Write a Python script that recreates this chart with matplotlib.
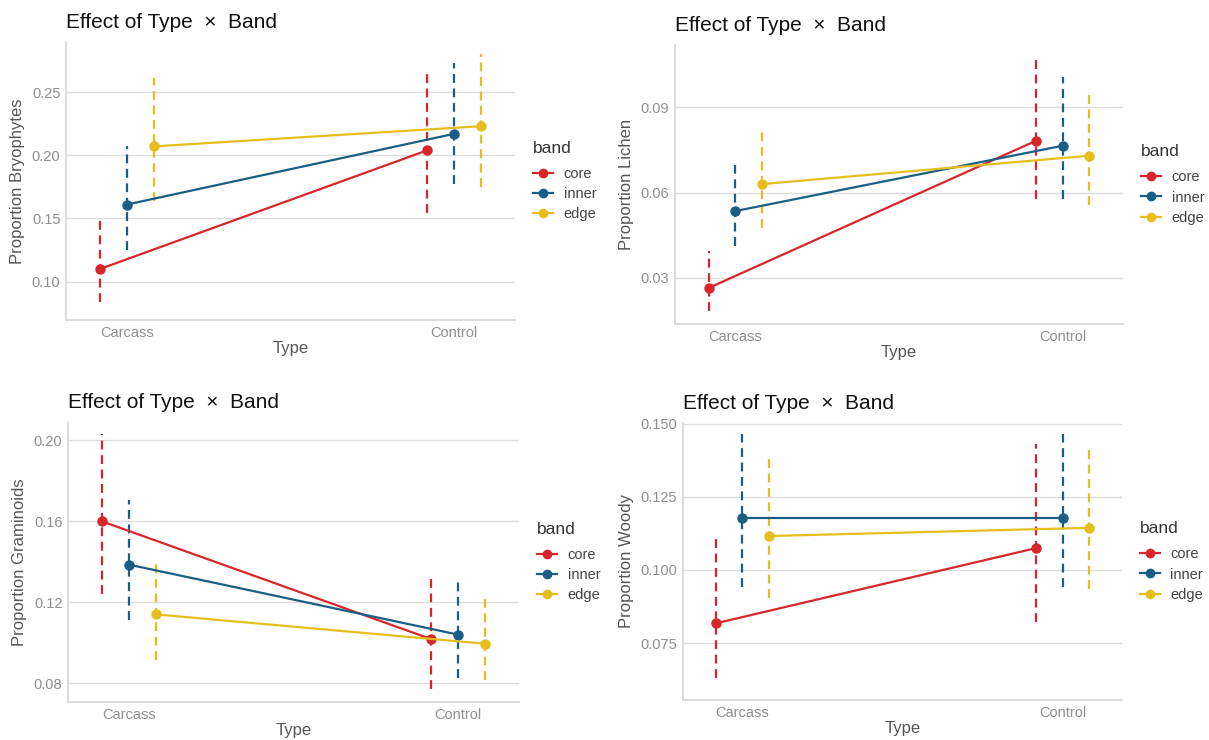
import matplotlib
matplotlib.use("Agg")
import matplotlib.pyplot as plt
from matplotlib.lines import Line2D
import numpy as np

plt.rcParams['font.family'] = ['Liberation Sans', 'DejaVu Sans']

types = ["Carcass", "Control"]
bands = ["core", "inner", "edge"]
band_colors = ["#D7262B", "#1B5E85", "#E5BE1E"]

# estimates and CI per band (rows: core, inner, edge; cols: Carcass, Control)
bryo_est = [[0.110, 0.204], [0.161, 0.217], [0.207, 0.223]]
bryo_lo = [[0.084, 0.154], [0.125, 0.177], [0.164, 0.175]]
bryo_hi = [[0.150, 0.264], [0.207, 0.273], [0.261, 0.280]]

lichen_est = [[0.0264, 0.0782], [0.0535, 0.0765], [0.0630, 0.0730]]
lichen_lo = [[0.0182, 0.0579], [0.0413, 0.0579], [0.0475, 0.0555]]
lichen_hi = [[0.0395, 0.1078], [0.0711, 0.1007], [0.0829, 0.0959]]

gram_est = [[0.160, 0.1018], [0.1386, 0.1040], [0.1140, 0.0995]]
gram_lo = [[0.1243, 0.0770], [0.1111, 0.0828], [0.0916, 0.0817]]
gram_hi = [[0.2030, 0.1332], [0.1706, 0.1298], [0.1414, 0.1236]]

woody_est = [[0.0818, 0.1075], [0.1178, 0.1178], [0.1116, 0.1144]]
woody_lo = [[0.0631, 0.0822], [0.0942, 0.0942], [0.0904, 0.0936]]
woody_hi = [[0.1106, 0.1429], [0.1464, 0.1464], [0.1383, 0.1415]]

W, H = 1209, 740
fig = plt.figure(figsize=(W / 100, H / 100), dpi=100)

def px_axes(l, r, t, b):
    return fig.add_axes([l / W, 1 - b / H, (r - l) / W, (b - t) / H])

panels = [
    (px_axes(66, 515, 42, 320), "Proportion Bryophytes", bryo_est, bryo_lo, bryo_hi,
     (0.0697, 0.2896), [0.10, 0.15, 0.20, 0.25], "{:.2f}"),
    (px_axes(675, 1123, 45, 324), "Proportion Lichen", lichen_est, lichen_lo, lichen_hi,
     (0.0137, 0.112), [0.03, 0.06, 0.09], "{:.2f}"),
    (px_axes(68, 519, 422, 702), "Proportion Graminoids", gram_est, gram_lo, gram_hi,
     (0.0707, 0.2091), [0.08, 0.12, 0.16, 0.20], "{:.2f}"),
    (px_axes(683, 1122, 423, 700), "Proportion Woody", woody_est, woody_lo, woody_hi,
     (0.0556, 0.1502), [0.075, 0.100, 0.125, 0.150], "{:.3f}"),
]

dodge = 0.082
x = np.arange(len(types))

for ax, ylab, est, lo, hi, ylim, yt, fmt in panels:
    for i, (band, col) in enumerate(zip(bands, band_colors)):
        xs = x + (i - 1) * dodge
        ax.vlines(xs, lo[i], hi[i], colors=col, linestyles=(0, (4, 2.5)),
                  linewidth=1.6, zorder=2)
    for i, (band, col) in enumerate(zip(bands, band_colors)):
        xs = x + (i - 1) * dodge
        ax.plot(xs, est[i], color=col, linewidth=1.6, marker="o",
                markersize=6.5, zorder=3 + i)
    ax.set_xlim(-0.185, 1.185)
    ax.set_ylim(*ylim)
    ax.set_xticks(x)
    ax.set_xticklabels(types)
    ax.set_yticks(yt)
    ax.set_yticklabels([fmt.format(v) for v in yt])
    ax.tick_params(length=0, labelsize=10.5, colors="#8f8f8f", pad=4)
    ax.yaxis.grid(True, color="#dddddd", linewidth=1.0)
    ax.set_axisbelow(True)
    for s in ["top", "right"]:
        ax.spines[s].set_visible(False)
    for s in ["left", "bottom"]:
        ax.spines[s].set_color("#d5d5d5")
        ax.spines[s].set_linewidth(1.2)
    ax.set_xlabel("Type", fontsize=12, color="#555555", labelpad=1)
    ax.set_ylabel(ylab, fontsize=12, color="#555555", labelpad=5)
    ax.set_title("Effect of Type  \u00d7  Band", loc="left", fontsize=15,
                 color="#111111", pad=10)
    handles = [Line2D([0], [0], color=c, marker="o", markersize=6, linewidth=1.6)
               for c in band_colors]
    leg = ax.legend(handles, bands, title="band", loc="center left",
                    bbox_to_anchor=(1.027, 0.5), frameon=False, fontsize=10.5,
                    title_fontsize=12.5, handlelength=1.4, handletextpad=0.7,
                    labelspacing=0.42, borderaxespad=0)
    leg._legend_box.align = "left"
    leg._legend_box.sep = 8
    for t in leg.get_texts():
        t.set_color("#444444")
    leg.get_title().set_color("#333333")

fig.savefig("out.png", dpi=100)
